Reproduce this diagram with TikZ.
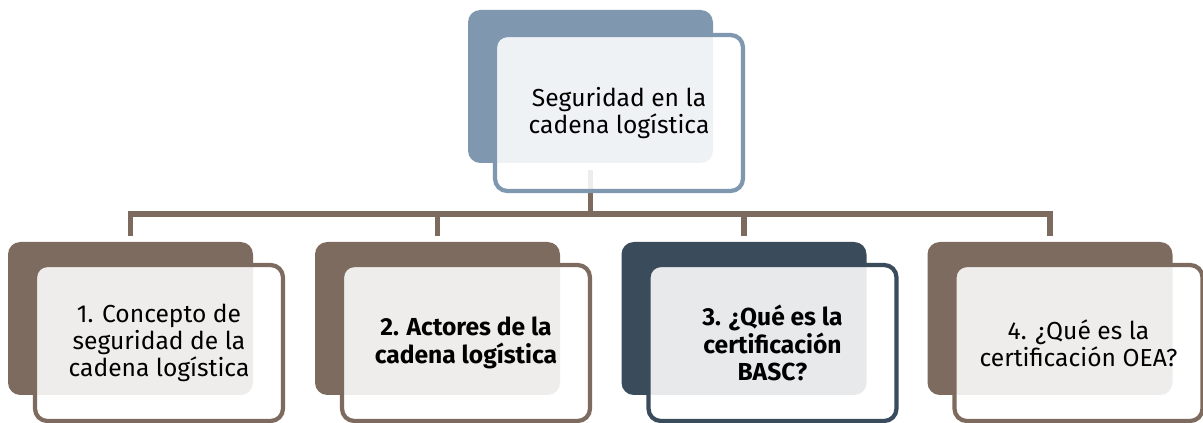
\documentclass[tikz,border=0pt]{standalone}
\usepackage{fontspec}
\setmainfont{Fira Sans}
\definecolor{cafe}{HTML}{7D6B5F}
\definecolor{pizarra}{HTML}{7F98AF}
\definecolor{noche}{HTML}{3A4B5C}
\tikzset{
  fondo/.style={rounded corners=7pt, fill=#1, minimum width=4.9cm, minimum height=3.06cm},
  frente/.style={draw=#1, line width=2.4pt, rounded corners=7pt, fill=white, fill opacity=0.88,
    text opacity=1, minimum width=4.96cm, minimum height=3.12cm, align=center,
    font=\fontsize{14}{15.5}\selectfont},
  enlace/.style={draw=cafe, line width=3pt}
}
\begin{document}
\begin{tikzpicture}
\useasboundingbox (0,0) rectangle (24.06,8.46);

% conectores
\coordinate (t) at (11.81,5.06);
\coordinate (m) at (11.81,4.18);
\coordinate (m1) at (2.61,4.18);
\coordinate (m4) at (21.0,4.18);
\coordinate (d1) at (2.61,3.74);
\coordinate (d2) at (8.75,3.74);
\coordinate (d3) at (14.88,3.74);
\coordinate (d4) at (21.0,3.74);
\path[enlace] (t) -- (m);
\path[enlace] (d1) -- (m1) -- (m4) -- (d4);
\path[enlace] (d2) -- (8.75,4.18);
\path[enlace] (d3) -- (14.88,4.18);

% caja superior
\node[fondo=pizarra] (a0) at (11.81,6.73) {};
\node[frente=pizarra] (a) at (12.38,6.20) {Seguridad en la\\cadena logística};

% cajas inferiores
\node[fondo=cafe] (b0) at (2.61,2.09) {};
\node[frente=cafe] (b) at (3.18,1.60) {1. Concepto de\\seguridad de la\\cadena logística};
\node[fondo=cafe] (c0) at (8.75,2.09) {};
\node[frente=cafe, font=\fontsize{14}{15.5}\selectfont\bfseries] (c) at (9.32,1.60) {2. Actores de la\\cadena logística};
\node[fondo=noche] (d0) at (14.88,2.09) {};
\node[frente=noche, font=\fontsize{14}{15.5}\selectfont\bfseries] (d) at (15.45,1.60) {3. ¿Qué es la\\certificación\\BASC?};
\node[fondo=cafe] (e0) at (21.0,2.09) {};
\node[frente=cafe] (e) at (21.57,1.60) {4. ¿Qué es la\\certificación OEA?};
\end{tikzpicture}
\end{document}
